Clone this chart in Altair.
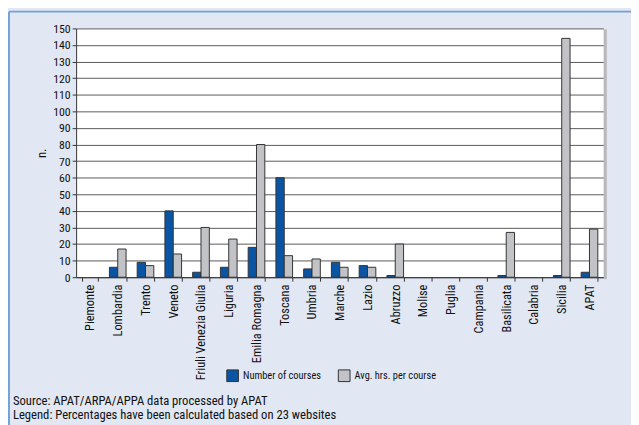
import altair as alt
import pandas as pd

regions = ["Piemonte", "Lombardia", "Trento", "Veneto", "Friuli Venezia Giulia",
           "Liguria", "Emilia Romagna", "Toscana", "Umbria", "Marche", "Lazio",
           "Abruzzo", "Molise", "Puglia", "Campania", "Basilicata", "Calabria",
           "Sicilia", "APAT"]
num_courses = [0, 6, 9, 40, 3, 6, 18, 60, 5, 9, 7, 1, 0, 0, 0, 1, 0, 1, 3]
avg_hours = [0, 17, 7, 14, 30, 23, 80, 13, 11, 6, 6, 20, 0, 0, 0, 27, 0, 144, 29]
series = ["Number of courses", "Avg. hrs. per course"]
colors = ["#0a55a3", "#c2c3c7"]
y_ticks = list(range(0, 151, 10))
notes = ["Source: APAT/ARPA/APPA data processed by APAT",
         "Legend: Percentages have been calculated based on 23 websites"]

rows = []
for r, a, b in zip(regions, num_courses, avg_hours):
    rows.append({"region": r, "series": series[0], "value": a})
    rows.append({"region": r, "series": series[1], "value": b})
df = pd.DataFrame(rows)

FONT = ("Roboto Condensed, Open Sans Condensed, Noto Sans Condensed, Arial Narrow, "
        "Liberation Sans Narrow, DejaVu Sans Condensed, sans-serif")
W, H = 534, 252
PANEL = "#e1e7f3"
BORDER = "#74a2d6"

bars = alt.Chart(df).transform_filter("datum.value > 0").mark_bar(
    stroke="#333333", strokeWidth=1).encode(
    x=alt.X("region:N", sort=regions,
            scale=alt.Scale(domain=regions, paddingInner=0.4, paddingOuter=0.2),
            axis=alt.Axis(title=None, labelAngle=270, labelAlign="right",
                          labelBaseline="middle", labelPadding=3, tickBand="extent",
                          tickSize=4, labelFontSize=12.5, labelColor="#111")),
    xOffset=alt.XOffset("series:N", sort=series,
                        scale=alt.Scale(domain=series, paddingInner=0, paddingOuter=0)),
    y=alt.Y("value:Q", scale=alt.Scale(domain=[0, 150], nice=False),
            axis=alt.Axis(title="n.", values=y_ticks, tickSize=4, labelPadding=2,
                          labelFontSize=12, labelColor="#111", titleFontSize=13,
                          titleFontWeight="normal", titleX=-28, titleY=126,
                          titleAngle=270, titleAlign="center", titleColor="#111")),
    color=alt.Color("series:N", sort=series,
                    scale=alt.Scale(domain=series, range=colors),
                    legend=alt.Legend(title=None, orient="none", legendX=152,
                                      legendY=345, direction="horizontal",
                                      symbolType="square", symbolSize=140,
                                      symbolStrokeColor="#333", symbolStrokeWidth=1,
                                      symbolOpacity=1, labelFontSize=10.5,
                                      labelColor="#111", columnPadding=14)),
)

one = alt.Data(values=[{}])

shadow = alt.Chart(one).mark_rule(color="#b9b9bc", strokeWidth=3).encode(
    x=alt.value(W + 2), y=alt.value(1), y2=alt.value(H + 2))

border_top = alt.Chart(one).mark_rule(color=BORDER, strokeWidth=2).encode(
    x=alt.value(-68), x2=alt.value(W + 40), y=alt.value(-17))
border_left = alt.Chart(one).mark_rule(color=BORDER, strokeWidth=2).encode(
    x=alt.value(-68), y=alt.value(-17), y2=alt.value(H + 160))

note_text = alt.Chart(alt.Data(values=[{"t": "\n".join(notes)}])).mark_text(
    align="left", baseline="alphabetic", lineBreak="\n", lineHeight=14.5,
    font=FONT, fontSize=12.8, color="#111").encode(
    text="t:N", x=alt.value(-64), y=alt.value(381))

chart = alt.layer(border_top, border_left, shadow, bars, note_text).properties(
    width=W, height=H,
    autosize=alt.AutoSizeParams(type="none"),
    padding={"left": 69, "top": 18, "right": 28, "bottom": 147},
    background=PANEL,
).configure_view(
    fill="white", stroke=None
).configure_axis(
    labelFont=FONT, titleFont=FONT, domainColor="#333", tickColor="#333",
    gridColor="#5a5a5a", gridWidth=1
).configure_axisX(grid=False).configure_legend(labelFont=FONT)

chart.save("out.html", embed_options={"renderer": "svg", "actions": False})
